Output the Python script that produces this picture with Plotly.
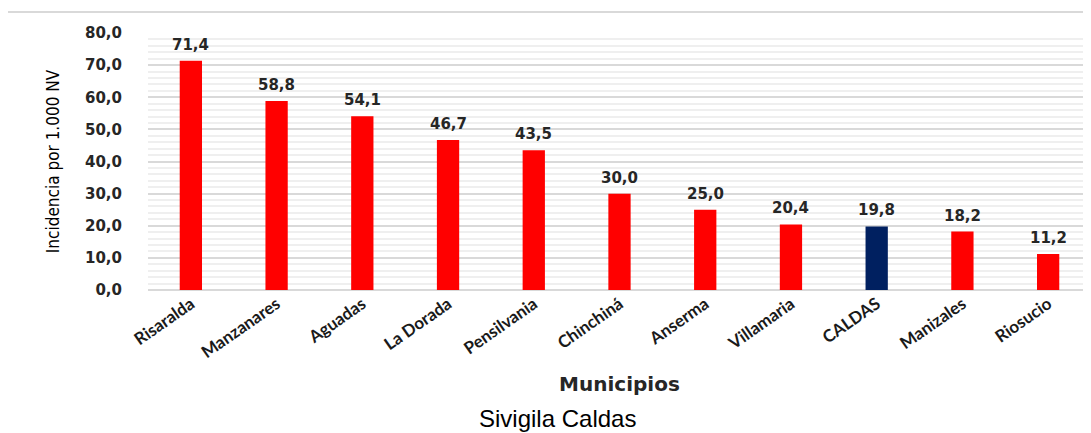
import plotly.graph_objects as go

municipios = ["Risaralda", "Manzanares", "Aguadas", "La Dorada", "Pensilvania",
              "Chinchiná", "Anserma", "Villamaria", "CALDAS", "Manizales", "Riosucio"]
incidencia = [71.4, 58.8, 54.1, 46.7, 43.5, 30.0, 25.0, 20.4, 19.8, 18.2, 11.2]
colores = ["#FF0000" if m != "CALDAS" else "#002060" for m in municipios]

# The page body has an 8px margin, so the figure is 8px smaller and offsets are shifted
W, H = 1083, 425
L, T, B = 140, 25, 143
PW, PH = W - L, H - T - B

fig = go.Figure()
fig.add_trace(go.Bar(
    x=municipios, y=incidencia,
    marker=dict(color=colores, line=dict(width=0)),
    cliponaxis=False,
))

fig.update_layout(
    width=W, height=H,
    margin=dict(l=L, r=0, t=T, b=B, autoexpand=False),
    paper_bgcolor="white", plot_bgcolor="white",
    separators=",.",
    bargap=0.74,
    showlegend=False,
    xaxis=dict(
        tickangle=-35,
        tickfont=dict(family="Lato", size=17, color="#1a1a1a", weight="bold"),
        showgrid=False, showline=False, ticks="",
        title=dict(text="Municipios", font=dict(family="DejaVu Sans", size=20, color="#262626", weight="bold"), standoff=15),
    ),
    yaxis=dict(
        range=[0, 80], dtick=10, tickformat=".1f",
        tickfont=dict(family="DejaVu Sans", size=15, color="#262626", weight="bold"),
        gridcolor="#d9d9d9", gridwidth=2,
        minor=dict(dtick=2, showgrid=True, gridcolor="#efefef", gridwidth=2),
        zeroline=True, zerolinecolor="#d9d9d9", zerolinewidth=2,
        showline=False, ticks="outside", ticklen=22, tickcolor="rgba(0,0,0,0)",
        title=dict(text="Incidencia por 1.000 NV", font=dict(family="DejaVu Sans Condensed", size=17, color="black"), standoff=21),
    ),
    shapes=[dict(type="line", xref="paper", yref="paper", x0=-L / PW, x1=1.0,
                 y0=(PH + T - 4) / PH, y1=(PH + T - 4) / PH, line=dict(color="#d9d9d9", width=2))],
)

fig.add_annotation(text="Sivigila Caldas", xref="paper", yref="paper", x=(549 - L) / PW,
                   y=-(410 - (T + PH)) / PH, showarrow=False, yanchor="middle",
                   font=dict(family="Liberation Sans", size=24, color="black", weight="normal"))

for m, v in zip(municipios, incidencia):
    fig.add_annotation(x=m, y=v, text=f"{v:.1f}".replace(".", ","), showarrow=False,
                       yanchor="bottom", yshift=5,
                       font=dict(family="DejaVu Sans", size=15, color="#262626", weight="bold"))

fig.write_html("out.html")
